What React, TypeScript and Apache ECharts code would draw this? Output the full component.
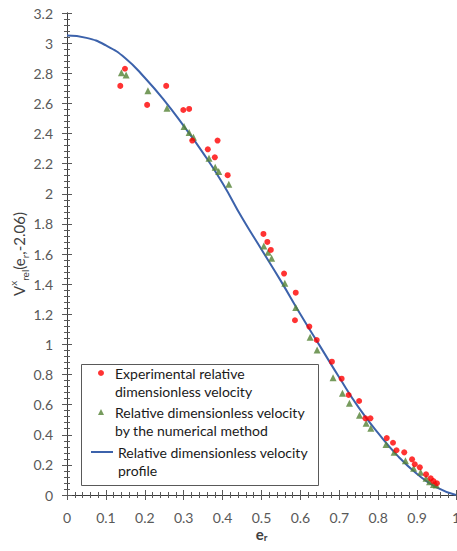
import React, { useEffect, useRef } from "react";
import * as echarts from "echarts";

// Experimental relative dimensionless velocity [e_r, V]
const expX = [0.137, 0.149, 0.206, 0.255, 0.299, 0.314, 0.322, 0.362, 0.380, 0.387, 0.413, 0.505, 0.515, 0.524, 0.558, 0.586, 0.588, 0.623, 0.642, 0.681, 0.706, 0.724, 0.751, 0.767, 0.780, 0.822, 0.838, 0.847, 0.867, 0.887, 0.894, 0.907, 0.923, 0.935, 0.942, 0.951];
const expY = [2.716, 2.83, 2.59, 2.716, 2.556, 2.563, 2.353, 2.295, 2.242, 2.353, 2.123, 1.733, 1.680, 1.627, 1.470, 1.160, 1.343, 1.118, 1.029, 0.885, 0.772, 0.664, 0.624, 0.509, 0.509, 0.378, 0.347, 0.297, 0.283, 0.237, 0.204, 0.184, 0.137, 0.111, 0.092, 0.078];

// Relative dimensionless velocity by the numerical method
const numX = [0.140, 0.152, 0.208, 0.257, 0.301, 0.314, 0.325, 0.365, 0.381, 0.390, 0.416, 0.506, 0.517, 0.526, 0.560, 0.588, 0.625, 0.643, 0.684, 0.708, 0.726, 0.752, 0.769, 0.781, 0.820, 0.841, 0.870, 0.891, 0.909, 0.923, 0.932, 0.942, 0.949];
const numY = [2.804, 2.789, 2.683, 2.568, 2.446, 2.406, 2.375, 2.236, 2.176, 2.147, 2.063, 1.653, 1.611, 1.572, 1.406, 1.244, 1.047, 0.963, 0.779, 0.675, 0.609, 0.529, 0.476, 0.443, 0.336, 0.283, 0.228, 0.177, 0.151, 0.111, 0.088, 0.070, 0.066];

// Relative dimensionless velocity profile
const profX = [0, 0.05, 0.1, 0.15, 0.2, 0.25, 0.3, 0.35, 0.4, 0.45, 0.5, 0.55, 0.6, 0.65, 0.7, 0.75, 0.8, 0.85, 0.9, 0.95, 1.0];
const profY = [3.05, 3.035, 2.985, 2.9, 2.77, 2.62, 2.45, 2.27, 2.07, 1.84, 1.63, 1.42, 1.2, 0.99, 0.78, 0.58, 0.41, 0.26, 0.14, 0.05, 0.0];

const NAME_EXP = "Experimental relative\ndimensionless velocity";
const NAME_NUM = "Relative dimensionless velocity\nby the numerical method";
const NAME_PROF = "Relative dimensionless velocity\nprofile";

const FONT = "Lato";

export default function App() {
  const ref = useRef<HTMLDivElement>(null);
  useEffect(() => {
    if (!ref.current) return;
    const chart = echarts.init(ref.current, null, { renderer: "svg" });
    const zip = (xs: number[], ys: number[]) => xs.map((x, i) => [x, ys[i]]);
    const axisLine = { show: true, lineStyle: { color: "#3a3a3a", width: 1 } };
    const tickStyle = { color: "#595959", width: 1 };
    const mkLegendText = (padLeft: number) => ({
      fontFamily: FONT,
      fontSize: 14,
      color: "#1a1a1a",
      rich: {
        a: { fontFamily: FONT, fontSize: 14, color: "#1a1a1a", lineHeight: 18, padding: [0, 0, 0, padLeft] },
      },
    });
    const legendFmt = (name: string) =>
      "{a| }\n" + name.split("\n").map((l) => "{a|" + l + "}").join("\n");
    chart.setOption({
      animation: false,
      textStyle: { fontFamily: FONT },
      grid: { left: 67, right: 1, top: 13, bottom: 56, containLabel: false, outerBoundsMode: "none" },
      xAxis: [
        {
          type: "value",
          min: 0,
          max: 1,
          interval: 0.1,
          position: "bottom",
          axisLine,
          axisTick: { show: true, inside: true, length: 5, lineStyle: tickStyle },
          minorTick: { show: true, splitNumber: 5, length: 3, lineStyle: tickStyle },
          splitLine: { show: false },
          axisLabel: { margin: 15, fontFamily: FONT, fontSize: 14, color: "#595959" },
          name: "{b|e}{s|r}",
          nameLocation: "middle",
          nameGap: 31,
          nameMoveOverlap: false,
          nameTextStyle: {
            rich: {
              b: { fontFamily: FONT, fontSize: 15, fontWeight: "bold", color: "#404040", lineHeight: 16, verticalAlign: "top" },
              s: { fontFamily: FONT, fontSize: 10, fontWeight: "bold", color: "#404040", lineHeight: 16, verticalAlign: "bottom" },
            },
          },
        },
        {
          type: "value",
          min: 0,
          max: 1,
          interval: 0.1,
          position: "top",
          axisLine,
          axisTick: { show: true, inside: true, length: 5, lineStyle: tickStyle },
          minorTick: { show: true, splitNumber: 5, length: 3, lineStyle: tickStyle },
          splitLine: { show: false },
          axisLabel: { show: false },
        },
      ],
      yAxis: [
        {
          type: "value",
          min: 0,
          max: 3.2,
          interval: 0.2,
          position: "left",
          axisLine,
          axisTick: { show: true, inside: true, length: 5, lineStyle: tickStyle },
          minorTick: { show: true, splitNumber: 5, length: 3, lineStyle: tickStyle },
          splitLine: { show: false },
          axisLabel: { margin: 14, fontFamily: FONT, fontSize: 14, color: "#595959" },
          name: "{m|V}{sup|x}{sub|rel}{m|(e}{sub|r}{m|,-2.06)}",
          nameLocation: "middle",
          nameGap: 37,
          nameMoveOverlap: false,
          nameTextStyle: {
            rich: {
              m: { fontFamily: FONT, fontSize: 15, color: "#404040", lineHeight: 22 },
              sup: { fontFamily: FONT, fontSize: 10, color: "#404040", lineHeight: 22, verticalAlign: "top" },
              sub: { fontFamily: FONT, fontSize: 10, color: "#404040", lineHeight: 22, verticalAlign: "bottom" },
            },
          },
        },
        {
          type: "value",
          min: 0,
          max: 3.2,
          interval: 0.2,
          position: "right",
          axisLine,
          axisTick: { show: true, inside: true, length: 5, lineStyle: tickStyle },
          minorTick: { show: true, splitNumber: 5, length: 3, lineStyle: tickStyle },
          splitLine: { show: false },
          axisLabel: { show: false },
        },
      ],
      legend: [
        {
          data: [{ name: NAME_EXP, icon: "circle" }],
          formatter: legendFmt,
          left: 98,
          top: 348,
          padding: 0,
          itemWidth: 6,
          itemHeight: 6,
          textStyle: mkLegendText(6),
          selectedMode: false,
          z: 10,
        },
        {
          data: [{ name: NAME_NUM, icon: "triangle" }],
          formatter: legendFmt,
          left: 98,
          top: 387,
          padding: 0,
          itemWidth: 6,
          itemHeight: 6,
          textStyle: mkLegendText(6),
          selectedMode: false,
          z: 10,
        },
        {
          data: [{ name: NAME_PROF, icon: "rect" }],
          formatter: legendFmt,
          left: 91,
          top: 427,
          padding: 0,
          itemWidth: 22,
          itemHeight: 2,
          textStyle: mkLegendText(0),
          selectedMode: false,
          z: 10,
        },
      ],
      graphic: [
        {
          type: "rect",
          left: 81,
          top: 364,
          shape: { width: 237, height: 121 },
          style: { fill: "#ffffff", stroke: "#595959", lineWidth: 1 },
          z: 1,
          silent: true,
        },
      ],
      series: [
        {
          name: NAME_PROF,
          type: "line",
          data: zip(profX, profY),
          smooth: true,
          showSymbol: false,
          symbol: "none",
          lineStyle: { color: "#3c62ab", width: 2 },
          itemStyle: { color: "#3c62ab" },
          z: 3,
        },
        {
          name: NAME_NUM,
          type: "scatter",
          data: zip(numX, numY),
          symbol: "triangle",
          symbolSize: 7,
          itemStyle: { color: "#548235" },
          z: 4,
        },
        {
          name: NAME_EXP,
          type: "scatter",
          data: zip(expX, expY),
          symbol: "circle",
          symbolSize: 6,
          itemStyle: { color: "#ff0000" },
          z: 4,
        },
      ],
    });
    return () => chart.dispose();
  }, []);
  return (
    <div
      ref={ref}
      style={{ position: "absolute", left: 0, top: 0, width: 457, height: 551 }}
    />
  );
}
